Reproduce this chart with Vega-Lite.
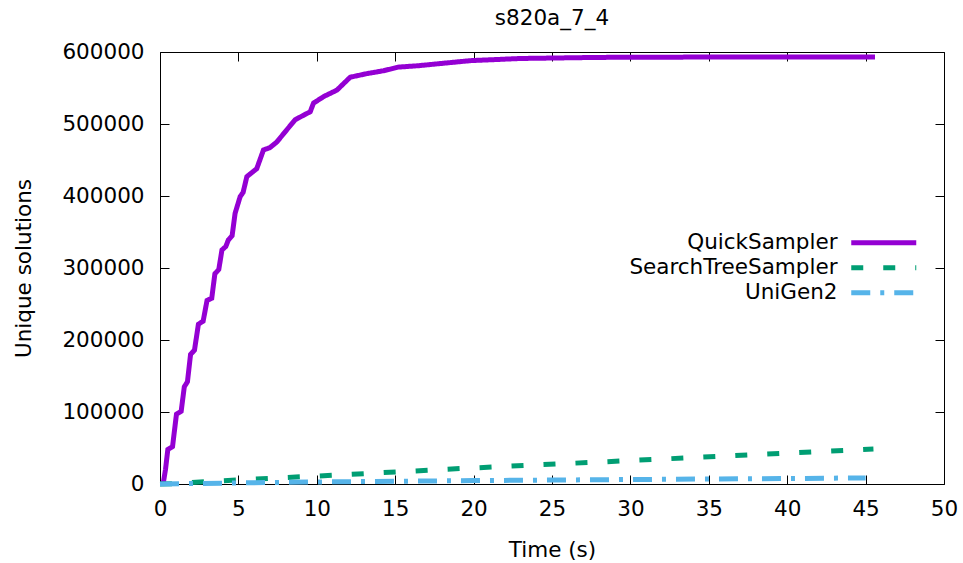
{
  "$schema": "https://vega.github.io/schema/vega-lite/v6.json",
  "width": 784,
  "height": 432,
  "autosize": {"type": "none"},
  "padding": {"left": 160, "top": 52, "right": 19, "bottom": 79},
  "title": {"text": "s820a_7_4", "fontSize": 21.5, "fontWeight": "normal", "font": "DejaVu Sans", "offset": 12, "color": "black"},
  "config": {
    "font": "DejaVu Sans",
    "view": {"stroke": "black", "strokeWidth": 1},
    "axis": {"grid": false, "domain": false, "tickColor": "black", "labelColor": "black", "titleColor": "black", "labelFontSize": 21.5, "titleFontSize": 21.5, "titleFontWeight": "normal", "tickSize": -9, "labelFlush": false, "labelOverlap": false}
  },
  "datasets": {
    "d": [
      {"series": "QuickSampler", "t": 0.2, "n": 0},
      {"series": "QuickSampler", "t": 0.35, "n": 20000},
      {"series": "QuickSampler", "t": 0.5, "n": 48000},
      {"series": "QuickSampler", "t": 0.8, "n": 52000},
      {"series": "QuickSampler", "t": 1.05, "n": 97000},
      {"series": "QuickSampler", "t": 1.35, "n": 101000},
      {"series": "QuickSampler", "t": 1.55, "n": 135000},
      {"series": "QuickSampler", "t": 1.75, "n": 142000},
      {"series": "QuickSampler", "t": 1.95, "n": 180000},
      {"series": "QuickSampler", "t": 2.2, "n": 186000},
      {"series": "QuickSampler", "t": 2.45, "n": 222000},
      {"series": "QuickSampler", "t": 2.75, "n": 226000},
      {"series": "QuickSampler", "t": 3.0, "n": 255000},
      {"series": "QuickSampler", "t": 3.3, "n": 258000},
      {"series": "QuickSampler", "t": 3.5, "n": 292000},
      {"series": "QuickSampler", "t": 3.75, "n": 298000},
      {"series": "QuickSampler", "t": 3.95, "n": 325000},
      {"series": "QuickSampler", "t": 4.2, "n": 330000},
      {"series": "QuickSampler", "t": 4.36, "n": 339000},
      {"series": "QuickSampler", "t": 4.6, "n": 345000},
      {"series": "QuickSampler", "t": 4.79, "n": 376000},
      {"series": "QuickSampler", "t": 5.11, "n": 399000},
      {"series": "QuickSampler", "t": 5.3, "n": 405000},
      {"series": "QuickSampler", "t": 5.54, "n": 427000},
      {"series": "QuickSampler", "t": 6.17, "n": 438000},
      {"series": "QuickSampler", "t": 6.6, "n": 464000},
      {"series": "QuickSampler", "t": 7.0, "n": 467000},
      {"series": "QuickSampler", "t": 7.45, "n": 475000},
      {"series": "QuickSampler", "t": 8.09, "n": 492000},
      {"series": "QuickSampler", "t": 8.62, "n": 506000},
      {"series": "QuickSampler", "t": 9.58, "n": 517000},
      {"series": "QuickSampler", "t": 9.79, "n": 529000},
      {"series": "QuickSampler", "t": 10.43, "n": 538000},
      {"series": "QuickSampler", "t": 11.28, "n": 547000},
      {"series": "QuickSampler", "t": 12.13, "n": 565000},
      {"series": "QuickSampler", "t": 13.2, "n": 570000},
      {"series": "QuickSampler", "t": 14.26, "n": 574000},
      {"series": "QuickSampler", "t": 15.2, "n": 579000},
      {"series": "QuickSampler", "t": 16.5, "n": 581000},
      {"series": "QuickSampler", "t": 17.9, "n": 584000},
      {"series": "QuickSampler", "t": 19.8, "n": 588000},
      {"series": "QuickSampler", "t": 23, "n": 591000},
      {"series": "QuickSampler", "t": 28, "n": 592500},
      {"series": "QuickSampler", "t": 35, "n": 593000},
      {"series": "QuickSampler", "t": 45.6, "n": 593000},
      {"series": "SearchTreeSampler", "t": 0, "n": 0},
      {"series": "SearchTreeSampler", "t": 1, "n": 500},
      {"series": "SearchTreeSampler", "t": 2, "n": 2000},
      {"series": "SearchTreeSampler", "t": 4, "n": 4500},
      {"series": "SearchTreeSampler", "t": 6, "n": 6800},
      {"series": "SearchTreeSampler", "t": 8, "n": 9000},
      {"series": "SearchTreeSampler", "t": 10, "n": 11000},
      {"series": "SearchTreeSampler", "t": 12, "n": 13200},
      {"series": "SearchTreeSampler", "t": 14, "n": 15500},
      {"series": "SearchTreeSampler", "t": 16, "n": 17800},
      {"series": "SearchTreeSampler", "t": 18, "n": 20200},
      {"series": "SearchTreeSampler", "t": 20, "n": 22300},
      {"series": "SearchTreeSampler", "t": 22, "n": 24400},
      {"series": "SearchTreeSampler", "t": 24, "n": 26500},
      {"series": "SearchTreeSampler", "t": 26, "n": 28500},
      {"series": "SearchTreeSampler", "t": 28, "n": 30500},
      {"series": "SearchTreeSampler", "t": 30, "n": 32600},
      {"series": "SearchTreeSampler", "t": 32, "n": 34600},
      {"series": "SearchTreeSampler", "t": 34, "n": 36700},
      {"series": "SearchTreeSampler", "t": 36, "n": 38800},
      {"series": "SearchTreeSampler", "t": 38, "n": 41000},
      {"series": "SearchTreeSampler", "t": 40, "n": 43000},
      {"series": "SearchTreeSampler", "t": 42, "n": 45100},
      {"series": "SearchTreeSampler", "t": 44, "n": 47000},
      {"series": "SearchTreeSampler", "t": 45.5, "n": 48500},
      {"series": "UniGen2", "t": 0, "n": 0},
      {"series": "UniGen2", "t": 5, "n": 1500},
      {"series": "UniGen2", "t": 10, "n": 2800},
      {"series": "UniGen2", "t": 15, "n": 3800},
      {"series": "UniGen2", "t": 20, "n": 4700},
      {"series": "UniGen2", "t": 25, "n": 5500},
      {"series": "UniGen2", "t": 30, "n": 6200},
      {"series": "UniGen2", "t": 35, "n": 6900},
      {"series": "UniGen2", "t": 40, "n": 7600},
      {"series": "UniGen2", "t": 45, "n": 8500}
    ]
  },
  "layer": [
    {
      "data": {"name": "d"},
      "mark": {"type": "line", "strokeWidth": 5},
      "encoding": {
        "x": {"field": "t", "type": "quantitative", "scale": {"domain": [0, 50], "nice": false},
          "axis": {"orient": "bottom", "values": [0, 5, 10, 15, 20, 25, 30, 35, 40, 45, 50], "labelPadding": 23, "title": "Time (s)", "titlePadding": 20}},
        "y": {"field": "n", "type": "quantitative", "scale": {"domain": [0, 600000], "nice": false},
          "axis": {"orient": "left", "values": [0, 100000, 200000, 300000, 400000, 500000, 600000], "format": "d", "labelPadding": 25, "title": "Unique solutions", "titlePadding": 26}},
        "color": {"field": "series", "type": "nominal",
          "scale": {"domain": ["QuickSampler", "SearchTreeSampler", "UniGen2"], "range": ["#9400d3", "#009e73", "#56b4e9"]},
          "legend": {"title": null, "orient": "none", "legendX": 713, "legendY": 180, "symbolType": "M-5,0H5", "symbolSize": 169, "symbolStrokeWidth": 5, "labelFontSize": 21.5, "labelAlign": "right", "labelOffset": -57, "labelLimit": 400, "labelColor": "black", "rowPadding": 2}},
        "strokeDash": {"field": "series", "type": "nominal",
          "scale": {"domain": ["QuickSampler", "SearchTreeSampler", "UniGen2"], "range": [[1, 0], [12, 20], [19, 10, 4, 10]]},
          "legend": {"title": null, "orient": "none", "legendX": 713, "legendY": 180, "symbolType": "M-5,0H5", "symbolSize": 169, "symbolStrokeWidth": 5, "labelFontSize": 21.5, "labelAlign": "right", "labelOffset": -57, "labelLimit": 400, "labelColor": "black", "rowPadding": 2}}
      }
    },
    {
      "data": {"name": "d"},
      "mark": {"type": "line", "strokeOpacity": 0},
      "encoding": {
        "x": {"field": "t", "type": "quantitative", "scale": {"domain": [0, 50], "nice": false},
          "axis": {"orient": "top", "values": [0, 5, 10, 15, 20, 25, 30, 35, 40, 45, 50], "labels": false, "title": null}},
        "y": {"field": "n", "type": "quantitative", "scale": {"domain": [0, 600000], "nice": false},
          "axis": {"orient": "right", "values": [0, 100000, 200000, 300000, 400000, 500000, 600000], "labels": false, "title": null}},
        "detail": {"field": "series"}
      }
    }
  ],
  "resolve": {"axis": {"x": "independent", "y": "independent"}}
}
